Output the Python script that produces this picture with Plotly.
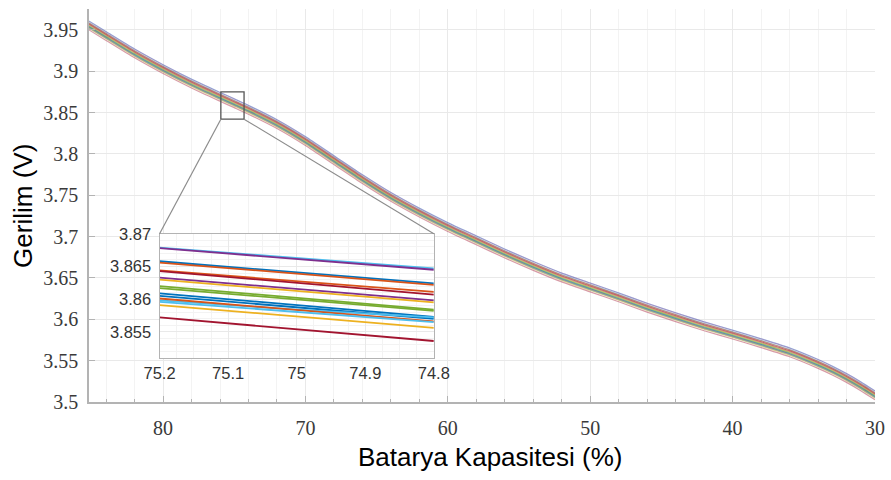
import plotly.graph_objects as go

# ---------------- data ----------------
# Main band: centre curve of the battery voltage vs capacity
soc = [85.2, 84, 82, 80, 78, 76, 75, 74, 72, 70, 68, 66, 64, 62, 60, 58, 56, 54,
       52, 50, 48, 46, 44, 42, 40, 38, 36, 34, 33, 32, 31, 30]
base_v = [3.9547, 3.942, 3.921, 3.902, 3.8845, 3.8685, 3.8607, 3.8528, 3.8355, 3.8150,
          3.7920, 3.7690, 3.7475, 3.7285, 3.711, 3.695, 3.679, 3.664, 3.650, 3.638,
          3.626, 3.6135, 3.602, 3.591, 3.581, 3.5705, 3.5595, 3.5455, 3.5375,
          3.5285, 3.5185, 3.5075]

series_colors = ["#4DBEEE", "#7E2F8E", "#0072BD", "#D95319", "#D95319", "#A2142F",
                 "#7E2F8E", "#EDB120", "#77AC30", "#77AC30", "#0072BD", "#0072BD",
                 "#4DBEEE", "#D95319", "#4DBEEE", "#EDB120", "#A2142F"]
# offset of each series from the centre curve (V)
band_offsets = [0.0059, 0.0058, 0.0038, 0.0036, 0.0024, 0.0023, 0.0013, 0.0010,
                0.0000, -0.0003, -0.0011, -0.0015, -0.0022, -0.0019, -0.0024,
                -0.0029, -0.0048]

# Inset (zoomed) values at capacity 75.2, 75.0, 74.8
inset_x = [75.2, 75.0, 74.8]
inset_start = [3.8679, 3.8678, 3.8658, 3.8656, 3.8644, 3.8643, 3.8633, 3.8630, 3.8620,
               3.8617, 3.8609, 3.8605, 3.8598, 3.8601, 3.8596, 3.8591, 3.8572]
inset_mid = [3.8663, 3.8661, 3.8641, 3.8639, 3.8628, 3.8625, 3.8615, 3.8612, 3.8602,
             3.8600, 3.8591, 3.8588, 3.8584, 3.8584, 3.8580, 3.8574, 3.8554]
inset_end = [3.8647, 3.8645, 3.8624, 3.8622, 3.8611, 3.8607, 3.8598, 3.8595, 3.8584,
             3.8582, 3.8573, 3.8570, 3.8572, 3.8566, 3.8565, 3.8556, 3.8536]

main_xticks = [80, 70, 60, 50, 40, 30]
main_yticks = [3.5, 3.55, 3.6, 3.65, 3.7, 3.75, 3.8, 3.85, 3.9, 3.95]
inset_xticks = [75.2, 75.1, 75.0, 74.9, 74.8]
inset_xlabels = ["75.2", "75.1", "75", "74.9", "74.8"]
inset_yticks = [3.855, 3.86, 3.865, 3.87]
inset_ylabels = ["3.855", "3.86", "3.865", "3.87"]

zoom_box_x = [75.94, 74.31]
zoom_box_y = [3.842, 3.875]

# ---------------- layout constants ----------------
W, H = 891, 480
ML, MR, MT, MB = 89, 11, 0, 78
XR = [85.2, 30]
YR = [3.5, 3.9752]
INSET_XDOM = [0.0898, 0.4387]
INSET_YDOM = [0.112, 0.428]
INSET_XR = [75.2, 74.8]
INSET_YR = [3.851, 3.87]

fig = go.Figure()

for off, col in zip(band_offsets, series_colors):
    fig.add_trace(go.Scatter(
        x=soc, y=[v + off for v in base_v], mode="lines",
        line=dict(color=col, width=1.2, shape="spline", smoothing=0.6),
        opacity=0.42, showlegend=False, hoverinfo="skip",
        xaxis="x", yaxis="y"))

for s, m, e, col in zip(inset_start, inset_mid, inset_end, series_colors):
    fig.add_trace(go.Scatter(
        x=inset_x, y=[s, m, e], mode="lines",
        line=dict(color=col, width=1.8),
        showlegend=False, hoverinfo="skip",
        xaxis="x2", yaxis="y2"))

grid_c = "#e9e9e9"
minor_c = "#f3f3f3"
axis_c = "#b3b3b3"
serif = "Liberation Serif"
sans = "Liberation Sans"

fig.update_layout(
    width=W, height=H,
    margin=dict(l=ML, r=MR, t=MT, b=MB, pad=0),
    paper_bgcolor="white", plot_bgcolor="white",
    showlegend=False,
    xaxis=dict(
        range=XR, autorange=False, tickmode="array", tickvals=main_xticks,
        showgrid=True, gridcolor=grid_c, gridwidth=1, zeroline=False,
        showline=True, linecolor=axis_c, linewidth=1.5,
        ticks="inside", ticklen=6, tickcolor=axis_c, tickwidth=1,
        tickfont=dict(family=serif, size=20, color="#3a3a3a"),
        ticklabelstandoff=7,
        minor=dict(dtick=2, tick0=30, showgrid=True, gridcolor=minor_c,
                   ticks="inside", ticklen=3, tickcolor=axis_c),
        domain=[0, 1], anchor="y"),
    yaxis=dict(
        range=YR, autorange=False, tickmode="array", tickvals=main_yticks,
        showgrid=True, gridcolor=grid_c, gridwidth=1, zeroline=False,
        showline=True, linecolor=axis_c, linewidth=1.5,
        ticks="inside", ticklen=6, tickcolor=axis_c, tickwidth=1,
        tickfont=dict(family=serif, size=20, color="#3a3a3a"),
        ticklabelstandoff=5,
        domain=[0, 1], anchor="x"),
    xaxis2=dict(
        domain=INSET_XDOM, anchor="y2", range=INSET_XR, autorange=False,
        tickmode="array", tickvals=inset_xticks, ticktext=inset_xlabels,
        showgrid=True, gridcolor=grid_c, zeroline=False,
        showline=True, mirror=True, linecolor=axis_c, linewidth=1.2,
        ticks="", tickfont=dict(family=sans, size=16.5, color="#333333"),
        ticklabelstandoff=0,
        minor=dict(dtick=0.025, tick0=74.8, showgrid=True, gridcolor=minor_c)),
    yaxis2=dict(
        domain=INSET_YDOM, anchor="x2", range=INSET_YR, autorange=False,
        tickmode="array", tickvals=inset_yticks, ticktext=inset_ylabels,
        showgrid=True, gridcolor=grid_c, zeroline=False,
        showline=True, mirror=True, linecolor=axis_c, linewidth=1.2,
        ticks="", tickfont=dict(family=sans, size=16.5, color="#333333"),
        ticklabelstandoff=4,
        minor=dict(dtick=0.001, tick0=3.85, showgrid=True, gridcolor=minor_c)),
)

# zoom box on the main plot
fig.add_shape(type="rect", xref="x", yref="y",
              x0=zoom_box_x[0], x1=zoom_box_x[1], y0=zoom_box_y[0], y1=zoom_box_y[1],
              line=dict(color="#555555", width=1.3), fillcolor="rgba(0,0,0,0)",
              layer="above")


# connector lines: inset top corners expressed in main-axis data units
def frac_to_x(frac):
    return XR[0] + (XR[1] - XR[0]) * frac


def frac_to_y(frac):
    return YR[0] + (YR[1] - YR[0]) * frac


inset_left = frac_to_x(INSET_XDOM[0])
inset_right = frac_to_x(INSET_XDOM[1])
inset_top = frac_to_y(INSET_YDOM[1])
for bx, ix in [(zoom_box_x[0], inset_left), (zoom_box_x[1], inset_right)]:
    fig.add_shape(type="line", xref="x", yref="y",
                  x0=bx, y0=zoom_box_y[0], x1=ix, y1=inset_top,
                  line=dict(color="#8c8c8c", width=1.2), layer="above")

# axis titles
fig.add_annotation(text="Gerilim (V)", xref="paper", yref="paper",
                   x=(22 - ML) / (W - ML - MR), y=0.5, textangle=-90,
                   xanchor="center", yanchor="middle", showarrow=False,
                   font=dict(family=sans, size=26, color="#000000"))
fig.add_annotation(text="Batarya Kapasitesi (%)", xref="paper", yref="paper",
                   x=(493 - ML) / (W - ML - MR), y=-(458 - (H - MB)) / (H - MB - MT),
                   xanchor="center", yanchor="middle", showarrow=False,
                   font=dict(family=sans, size=26, color="#000000"))

fig.write_html("out.html")
